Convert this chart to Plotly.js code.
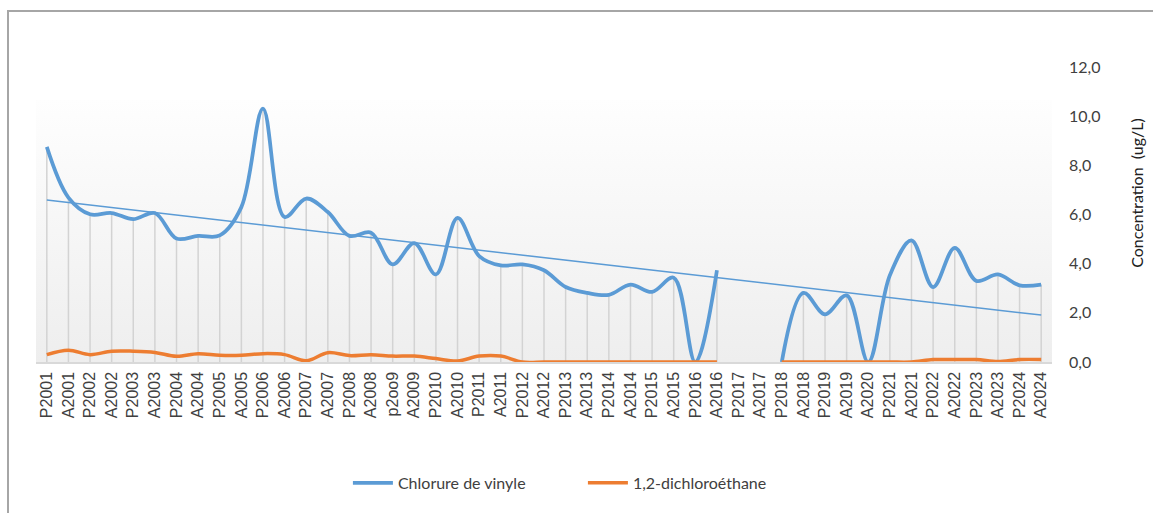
<!DOCTYPE html>
<html>
<head>
<meta charset="utf-8">
<script src="https://cdn.plot.ly/plotly-3.0.1.min.js"></script>
<style>
  html, body { margin: 0; padding: 0; background: #ffffff; }
  #wrap { position: relative; width: 1153px; height: 513px; overflow: hidden; }
  #frame { position: absolute; left: 7px; top: 10px; width: 1200px; height: 600px;
           border-left: 2px solid #a6a6a6; border-top: 2px solid #a6a6a6; pointer-events: none; }
  #chart { position: absolute; left: 0; top: 0; width: 1153px; height: 513px; }
</style>
</head>
<body>
<div id="wrap">
  <div id="chart"></div>
  <div id="frame"></div>
</div>
<script>
// Campaign labels (P = printemps, A = automne)
var categories = [
  "P2001","A2001","P2002","A2002","P2003","A2003","P2004","A2004","P2005","A2005",
  "P2006","A2006","P2007","A2007","P2008","A2008","p2oo9","A2009","P2010","A2010",
  "P2011","A2011","P2012","A2012","P2013","A2013","P2014","A2014","P2015","A2015",
  "P2016","A2016","P2017","A2017","P2018","A2018","P2019","A2019","A2020","P2021",
  "A2021","P2022","A2022","P2023","A2023","P2024","A2024"
];

// Chlorure de vinyle (ug/L) - null = no measurement
var chlorureVinyle = [
  8.75, 6.69, 6.01, 6.06, 5.81, 6.06, 5.02, 5.13, 5.15, 6.30,
  10.31, 5.90, 6.65, 6.10, 5.13, 5.26, 3.97, 4.84, 3.56, 5.86,
  4.31, 3.93, 3.97, 3.73, 3.05, 2.81, 2.73, 3.15, 2.85, 3.43,
  0.00, 3.73, null, null, 0.00, 2.81, 1.94, 2.71, 0.00, 3.53,
  4.95, 3.05, 4.64, 3.30, 3.56, 3.12, 3.15
];

// 1,2-dichloroéthane (ug/L)
var dichloroethane = [
  0.30, 0.48, 0.30, 0.44, 0.44, 0.39, 0.23, 0.34, 0.27, 0.27,
  0.34, 0.30, 0.05, 0.38, 0.26, 0.30, 0.24, 0.24, 0.14, 0.04,
  0.24, 0.24, 0.00, 0.00, 0.00, 0.00, 0.00, 0.00, 0.00, 0.00,
  0.00, 0.00, null, null, 0.00, 0.00, 0.00, 0.00, 0.00, 0.00,
  0.00, 0.10, 0.10, 0.10, 0.02, 0.10, 0.10
];

var yTicks = [0, 2, 4, 6, 8, 10, 12];
var yTitle = "Concentration  (ug/L)";

// Linear trendline (least squares on category index) for Chlorure de vinyle
function linearTrend(vals) {
  var n = 0, sx = 0, sy = 0, sxx = 0, sxy = 0;
  vals.forEach(function (v, i) {
    if (v === null) return;
    var x = i + 1;
    n++; sx += x; sy += v; sxx += x * x; sxy += x * v;
  });
  var b = (n * sxy - sx * sy) / (n * sxx - sx * sx);
  var a = (sy - b * sx) / n;
  return vals.map(function (v, i) { return a + b * (i + 1); });
}
var trend = linearTrend(chlorureVinyle);

// drop lines: from the highest series value down to the axis
var dropTop = chlorureVinyle.map(function (v, i) {
  if (v === null) return null;
  var d = dichloroethane[i] === null ? 0 : dichloroethane[i];
  return Math.max(v, d);
});

var BLUE = "#5B9BD5", ORANGE = "#ED7D31";

var traces = [
  {
    x: categories, y: dropTop, type: "scatter", mode: "markers",
    marker: { size: 1, color: "rgba(0,0,0,0)" },
    error_y: { type: "data", symmetric: false,
               array: dropTop.map(function () { return 0; }),
               arrayminus: dropTop.map(function (v) { return v === null ? 0 : v; }),
               width: 0, thickness: 1.5, color: "#d3d3d3" },
    showlegend: false, hoverinfo: "skip"
  },
  {
    x: categories, y: trend, type: "scatter", mode: "lines",
    line: { color: BLUE, width: 1.5 },
    showlegend: false, hoverinfo: "skip"
  },
  {
    x: categories, y: chlorureVinyle, type: "scatter", mode: "lines",
    name: "Chlorure de vinyle",
    line: { color: BLUE, width: 3.75, shape: "spline", smoothing: 1 },
    connectgaps: false
  },
  {
    x: categories, y: dichloroethane, type: "scatter", mode: "lines",
    name: "1,2-dichloroéthane",
    line: { color: ORANGE, width: 3.5, shape: "spline", smoothing: 1 },
    connectgaps: false
  }
];

var gradSvg = "<svg xmlns='http://www.w3.org/2000/svg' width='10' height='100' preserveAspectRatio='none'>" +
  "<defs><linearGradient id='g' x1='0' y1='0' x2='0' y2='1'>" +
  "<stop offset='0' stop-color='#fefefe'/><stop offset='1' stop-color='#eeeeee'/></linearGradient></defs>" +
  "<rect width='10' height='100' fill='url(#g)'/></svg>";

var layout = {
  width: 1153, height: 513,
  margin: { l: 36, r: 101, t: 67, b: 151, pad: 0 },
  paper_bgcolor: "rgba(0,0,0,0)",
  plot_bgcolor: "rgba(0,0,0,0)",
  separators: ", ",
  font: { family: "Liberation Sans, Arial, sans-serif", color: "#404040" },
  images: [{
    source: "data:image/svg+xml;charset=utf-8," + encodeURIComponent(gradSvg),
    xref: "paper", yref: "paper", x: 0, y: 0.89, sizex: 1, sizey: 0.89,
    xanchor: "left", yanchor: "top", sizing: "stretch", layer: "below"
  }],
  xaxis: {
    type: "category", range: [-0.5, categories.length - 0.5],
    tickangle: -90, showgrid: false, zeroline: false,
    showline: true, linecolor: "#d9d9d9", linewidth: 1.5,
    ticks: "", ticklabelstandoff: 2,
    tickfont: { size: 16, color: "#404040", family: "Liberation Sans, Arial, sans-serif" },
    fixedrange: true
  },
  yaxis: {
    side: "right", range: [0, 12], tickvals: yTicks, tickformat: ".1f",
    showgrid: false, zeroline: false, showline: false, ticks: "",
    ticklabelstandoff: 16,
    tickfont: { size: 16, color: "#404040", family: "Lato, Open Sans, sans-serif" },
    fixedrange: true
  },
  annotations: [{
    text: yTitle, textangle: -90, showarrow: false,
    xref: "paper", yref: "paper", x: 1.0835, y: 0.573,
    xanchor: "center", yanchor: "middle",
    font: { size: 16, color: "#202020", family: "Lato, Open Sans, sans-serif" }
  }],
  showlegend: true,
  legend: {
    orientation: "h", x: 0.307, xanchor: "left", y: -0.41, yanchor: "middle",
    itemwidth: 40,
    font: { size: 16, color: "#404040", family: "Lato, Open Sans, sans-serif" },
    entrywidth: 180, bgcolor: "rgba(0,0,0,0)"
  }
};

Plotly.newPlot("chart", traces, layout, { displayModeBar: false, staticPlot: true });
</script>
</body>
</html>
